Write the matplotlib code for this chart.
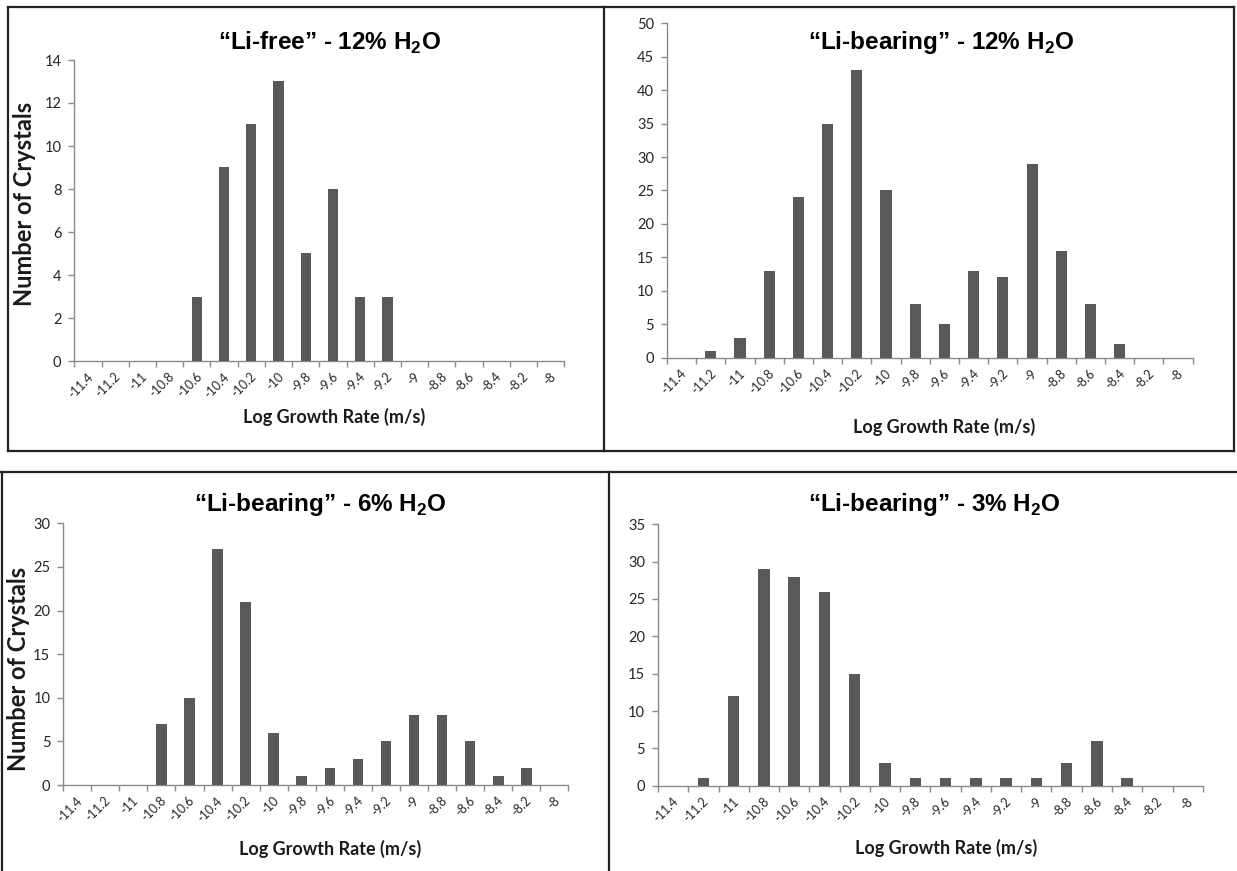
import matplotlib
matplotlib.use("Agg")
import matplotlib.pyplot as plt
from matplotlib.lines import Line2D
import matplotlib.transforms as mtransforms
import numpy as np

plt.rcParams['font.family'] = ['Lato', 'DejaVu Sans']
plt.rcParams['mathtext.fontset'] = 'custom'
plt.rcParams['mathtext.rm'] = 'Liberation Sans'
plt.rcParams['mathtext.bf'] = 'Liberation Sans:bold'

# ---------------- data ----------------
categories = ['-11.4', '-11.2', '-11', '-10.8', '-10.6', '-10.4', '-10.2', '-10',
              '-9.8', '-9.6', '-9.4', '-9.2', '-9', '-8.8', '-8.6', '-8.4', '-8.2', '-8']

lifree_12 = [0, 0, 0, 0, 3, 9, 11, 13, 5, 8, 3, 3, 0, 0, 0, 0, 0, 0]
libearing_12 = [0, 1, 3, 13, 24, 35, 43, 25, 8, 5, 13, 12, 29, 16, 8, 2, 0, 0]
libearing_6 = [0, 0, 0, 7, 10, 27, 21, 6, 1, 2, 3, 5, 8, 8, 5, 1, 2, 0]
libearing_3 = [0, 1, 12, 29, 28, 26, 15, 3, 1, 1, 1, 1, 1, 3, 6, 1, 0, 0]

titles = ['“Li-free” - 12% H$_\\mathbf{2}$O',
          '“Li-bearing” - 12% H$_\\mathbf{2}$O',
          '“Li-bearing” - 6% H$_\\mathbf{2}$O',
          '“Li-bearing” - 3% H$_\\mathbf{2}$O']
y_max = [14, 50, 30, 35]
y_step = [2, 5, 5, 5]
x_label = 'Log Growth Rate (m/s)'
y_label = 'Number of Crystals'

# ---------------- layout (pixels) ----------------
W, H = 1237, 871
fig = plt.figure(figsize=(W / 100, H / 100), dpi=100)
fig.patch.set_facecolor('white')


def fx(x):
    return x / W


def fy(y):
    return 1 - y / H


# axes boxes: (left, right, y_top, y_baseline) in pixels
axes_px = [(74.3, 564.4, 60, 361),
           (667, 1192.7, 23.3, 357.7),
           (63.2, 568.4, 523.3, 785),
           (658, 1202.8, 524.3, 785.7)]
title_pos = [(329, 43), (941, 43), (320, 505), (934, 505)]
xlabel_pos = [(334, 417), (944, 427), (330, 849), (946, 848)]
ylabel_pos = [(25, 204), None, (19, 669), None]

data = [lifree_12, libearing_12, libearing_6, libearing_3]

bar_color = '#595959'
axis_color = '#8a8a8a'
tick_color = '#262626'

x = np.arange(len(categories))
for i in range(4):
    l, r, t, b = axes_px[i]
    ax = fig.add_axes([fx(l), fy(b), fx(r) - fx(l), fy(t) - fy(b)])
    ax.bar(x, data[i], width=0.38, color=bar_color, zorder=3)
    ax.set_xlim(-0.5, len(categories) - 0.5)
    ax.set_ylim(0, y_max[i])
    ax.set_yticks(np.arange(0, y_max[i] + 0.1, y_step[i]))
    ax.set_facecolor('none')
    for s in ['top', 'right']:
        ax.spines[s].set_visible(False)
    for s in ['left', 'bottom']:
        ax.spines[s].set_color(axis_color)
        ax.spines[s].set_linewidth(1.0)
    ax.tick_params(axis='y', direction='out', length=4.3, width=1.0,
                   color=axis_color, labelcolor=tick_color, labelsize=10.5, pad=5)
    # category labels at centres, tick marks at boundaries
    ax.set_xticks(x)
    ax.set_xticklabels(categories, rotation=45, ha='right', va='center',
                       rotation_mode='anchor', fontsize=9, color=tick_color)
    ax.tick_params(axis='x', which='major', length=0, pad=10)
    ax.set_xticks(np.arange(-0.5, len(categories)), minor=True)
    ax.tick_params(axis='x', which='minor', direction='out', length=4.3,
                   width=1.0, color=axis_color)
    offset = mtransforms.ScaledTranslation(3 / 100, 0, fig.dpi_scale_trans)
    for lab in ax.get_xticklabels():
        lab.set_transform(lab.get_transform() + offset)

    fig.text(fx(title_pos[i][0]), fy(title_pos[i][1]), titles[i],
             ha='center', va='center', fontsize=17.5, fontweight='bold',
             family='Liberation Sans', color='black')
    fig.text(fx(xlabel_pos[i][0]), fy(xlabel_pos[i][1]), x_label,
             ha='center', va='center', fontsize=13, fontweight='bold',
             color='#1a1a1a')
    if ylabel_pos[i] is not None:
        fig.text(fx(ylabel_pos[i][0]), fy(ylabel_pos[i][1]), y_label,
                 ha='center', va='center', rotation=90, fontsize=17,
                 fontweight='bold', color='#1a1a1a')

# ---------------- panel borders ----------------
border_lines = [
    ((8, 604), (7, 7)), ((8, 604), (451, 451)), ((8, 8), (7, 451)),
    ((604, 604), (7, 451)),
    ((604, 1234), (7, 7)), ((604, 1234), (451, 451)), ((1234, 1234), (7, 451)),
    ((1, 1237), (472, 472)), ((2, 2), (472, 871)), ((609, 609), (472, 871)),
]
for xs, ys in border_lines:
    fig.add_artist(Line2D([fx(xs[0]), fx(xs[1])], [fy(ys[0]), fy(ys[1])],
                          transform=fig.transFigure, color='#222222',
                          linewidth=1.6, solid_capstyle='projecting'))

fig.savefig('out.png', dpi=100, facecolor='white')
